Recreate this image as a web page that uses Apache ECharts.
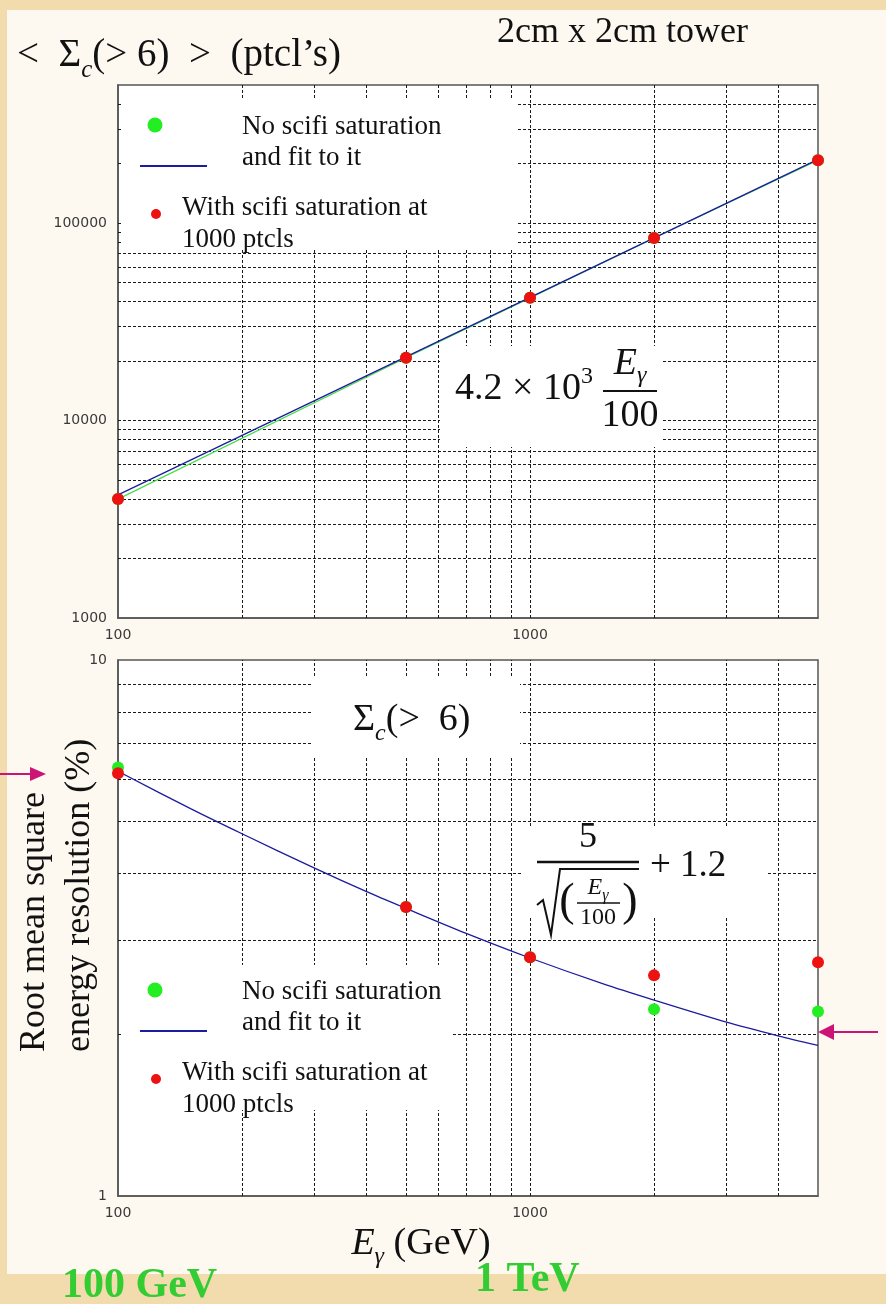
<!DOCTYPE html>
<html><head><meta charset="utf-8">
<script src="https://cdn.jsdelivr.net/npm/echarts@6/dist/echarts.min.js"></script>
<style>html,body{margin:0;padding:0;background:#f2dcad;}#c{width:886px;height:1304px;}</style>
</head><body><div id="c"></div>
<script>
// ---------- data ----------
const energies = [100, 500, 1000, 2000, 5000];               // E_gamma (GeV)
const topNoSat   = [4000, 20800, 41800, 84000, 208000];       // <Sigma_c(>6)>, no scifi saturation
const topWithSat = [4000, 20800, 41800, 84000, 208000];       // with saturation at 1000 ptcls
const topFitE    = [100, 5000];
const topFitVal  = [4200, 210000];                            // 4.2e3 * E/100
const botNoSat   = [6.3, 3.46, 2.79, 2.23, 2.21];             // rms resolution (%), no saturation
const botWithSat = [6.15, 3.46, 2.79, 2.58, 2.73];            // with saturation
const botFitE    = [100, 150, 200, 300, 400, 500, 700, 1000, 1500, 2000, 3000, 4000, 5000];
const botFitVal  = [6.2, 5.28, 4.74, 4.09, 3.7, 3.44, 3.09, 2.78, 2.49, 2.32, 2.11, 1.99, 1.91];
// grid / tick values
const xGridVals    = [200, 300, 400, 500, 600, 700, 800, 900, 1000, 2000, 3000, 4000];
const topYGridVals = [2000, 3000, 4000, 5000, 6000, 7000, 8000, 9000, 10000,
                      20000, 30000, 40000, 50000, 60000, 70000, 80000, 90000, 100000,
                      200000, 300000, 400000];
const botYGridVals = [2, 3, 4, 5, 6, 7, 8, 9];
const xLabelVals   = [100, 1000];
const topYLabelVals = [1000, 10000, 100000];
const botYLabelVals = [1, 10];

const zip = (a, b) => a.map((v, i) => [v, b[i]]);
const SERIF = '"Liberation Serif", "Times New Roman", serif';
const TICKFONT = '"DejaVu Sans", sans-serif';

const gridLineStyle = { color: '#1a1a1a', type: [3, 2], width: 1 };
function gridSeries(xi, yVals) {
  return {
    type: 'line', xAxisIndex: xi, yAxisIndex: xi, data: [], z: 1, silent: true,
    markLine: {
      z: 1, silent: true, symbol: ['none', 'none'], label: { show: false },
      lineStyle: gridLineStyle, animation: false,
      emphasis: { disabled: true },
      data: xGridVals.map(v => ({ xAxis: v })).concat(yVals.map(v => ({ yAxis: v })))
    }
  };
}
function xAxisDef(gi) {
  return {
    type: 'log', gridIndex: gi, min: 100, max: 5000, logBase: 10,
    axisLine: { show: true, lineStyle: { color: '#555', width: 1.5 } },
    axisTick: { show: false }, splitLine: { show: false },
    axisLabel: {
      margin: 10, color: '#3a3a3a', fontFamily: TICKFONT, fontSize: 14,
      showMaxLabel: false,
      formatter: v => xLabelVals.some(t => Math.abs(t - v) / t < 1e-6) ? String(Math.round(v)) : ''
    }
  };
}
function yAxisDef(gi, mn, mx, labels, showMax) {
  return {
    type: 'log', gridIndex: gi, min: mn, max: mx, logBase: 10,
    axisLine: { show: true, lineStyle: { color: '#555', width: 1.5 } },
    axisTick: { show: false }, splitLine: { show: false },
    axisLabel: {
      margin: 11, color: '#3a3a3a', fontFamily: TICKFONT, fontSize: 14,
      showMaxLabel: showMax,
      formatter: v => labels.some(t => Math.abs(t - v) / t < 1e-6) ? String(Math.round(v)) : ''
    }
  };
}

const box = (x, y, w, h) => ({ type: 'rect', z: 2, silent: true, shape: { x, y, width: w, height: h }, style: { fill: '#ffffff' } });
function fstyle(spec) { // spec: {size, style, weight}
  return { fontFamily: SERIF, fontSize: spec.size, fontStyle: spec.style || 'normal', fontWeight: spec.weight || 'normal' };
}
const txt = (x, y, text, spec, extra) => ({
  type: 'text', z: 10, silent: true, x, y,
  style: Object.assign({ text, fill: '#111', textAlign: 'left', textVerticalAlign: 'middle' }, fstyle(spec), extra || {})
});
const ln = (x1, y1, x2, y2, color, w) => ({ type: 'line', z: 10, silent: true, shape: { x1, y1, x2, y2 }, style: { stroke: color, lineWidth: w } });
const dot = (cx, cy, r, color) => ({ type: 'circle', z: 10, silent: true, shape: { cx, cy, r }, style: { fill: color } });
const sub = (size, va) => Object.assign(fstyle({ size, style: 'italic' }), { verticalAlign: va, lineHeight: size });

const GREEN = '#22ee22', RED = '#ee1111', BLUE = '#1c1c9e', MAG = '#cc1477';

function legend(y0) {
  return [
    dot(155, y0, 7.5, GREEN),
    ln(140, y0 + 41, 207, y0 + 41, BLUE, 2.2),
    txt(242, y0 + 2, 'No scifi saturation', { size: 27 }),
    txt(242, y0 + 33, 'and fit to it', { size: 27 }),
    dot(156, y0 + 89, 5, RED),
    txt(182, y0 + 83, 'With scifi saturation at', { size: 27 }),
    txt(182, y0 + 115, '1000 ptcls', { size: 27 })
  ];
}

const graphics = [
  // picture area (lighter paper)
  { type: 'rect', z: -10, silent: true, shape: { x: 7, y: 10, width: 879, height: 1264 }, style: { fill: '#fdf9f0' } },
  // white boxes masking the grid
  box(123, 98, 395, 152),      // top legend
  box(440, 346, 223, 101),     // top formula
  box(312, 678, 208, 79),      // Sigma_c(>6)
  box(523, 826, 245, 92),      // bottom formula
  box(123, 965, 329, 145),     // bottom legend
  // titles
  txt(17, 56, '<  Σ{s|c}(> 6)  >  (ptcl’s)', { size: 39 }, { rich: { s: sub(25, 'bottom') }, lineHeight: 54 }),
  txt(497, 33, '2cm x 2cm tower', { size: 36 }),
  // top formula 4.2 x 10^3 E/100
  txt(455, 389, '4.2 × 10{p|3}', { size: 38 },
      { rich: { p: Object.assign(fstyle({ size: 24 }), { verticalAlign: 'top', lineHeight: 24 }) }, lineHeight: 48 }),
  txt(630, 364, 'E{s|γ}', { size: 38, style: 'italic' }, { textAlign: 'center', rich: { s: sub(24, 'bottom') }, lineHeight: 48 }),
  ln(603, 391, 657, 391, '#111', 2.2),
  txt(630, 416, '100', { size: 38 }, { textAlign: 'center' }),
  // Sigma_c(>6)
  txt(353, 720, 'Σ{s|c}(>  6)', { size: 38 }, { rich: { s: sub(24, 'bottom') }, lineHeight: 52 }),
  // bottom formula 5/sqrt(E/100) + 1.2
  txt(588, 838, '5', { size: 36 }, { textAlign: 'center' }),
  ln(537, 862, 639, 862, '#111', 2.4),
  { type: 'polyline', z: 10, silent: true, shape: { points: [[537, 905], [543, 900], [551, 935], [560, 869], [639, 869]] }, style: { stroke: '#111', lineWidth: 2, fill: null } },
  txt(567, 903, '(', { size: 46 }, { textAlign: 'center' }),
  txt(630, 903, ')', { size: 46 }, { textAlign: 'center' }),
  txt(598, 888, 'E{s|γ}', { size: 24, style: 'italic' }, { textAlign: 'center', rich: { s: sub(16, 'bottom') }, lineHeight: 32 }),
  ln(577, 903, 620, 903, '#111', 1.5),
  txt(598, 918, '100', { size: 24 }, { textAlign: 'center' }),
  txt(650, 866, '+ 1.2', { size: 37 }),
  // bottom y axis name (rotated)
  Object.assign(txt(35, 1052, 'Root mean square', { size: 36 }), { rotation: Math.PI / 2 }),
  Object.assign(txt(80, 1052, 'energy resolution (%)', { size: 36 }), { rotation: Math.PI / 2 }),
  // x axis name
  txt(421, 1244, 'E{s|γ}{n| (GeV)}', { size: 38, style: 'italic' },
      { textAlign: 'center', rich: { s: sub(24, 'bottom'), n: fstyle({ size: 38 }) }, lineHeight: 50 }),
  // green annotations
  txt(62, 1286, '100 GeV', { size: 42, weight: 'bold' }, { fill: '#33cc33' }),
  txt(475, 1280, '1 TeV', { size: 42, weight: 'bold' }, { fill: '#33cc33' }),
  // magenta arrows
  ln(0, 774, 33, 774, MAG, 2),
  { type: 'polygon', z: 10, silent: true, shape: { points: [[30, 767], [46, 774], [30, 781]] }, style: { fill: MAG } },
  ln(878, 1032, 830, 1032, MAG, 2),
  { type: 'polygon', z: 10, silent: true, shape: { points: [[834, 1024], [818, 1032], [834, 1040]] }, style: { fill: MAG } }
].concat(legend(125), legend(990));

const chart = echarts.init(document.getElementById('c'), null, { renderer: 'canvas' });
chart.setOption({
  animation: false,
  backgroundColor: '#f2dcad',
  grid: [
    { left: 118, top: 85, width: 700, height: 533, show: true, backgroundColor: '#fff', borderColor: '#555', borderWidth: 1.5, containLabel: false },
    { left: 118, top: 660, width: 700, height: 536, show: true, backgroundColor: '#fff', borderColor: '#555', borderWidth: 1.5, containLabel: false }
  ],
  xAxis: [xAxisDef(0), xAxisDef(1)],
  yAxis: [yAxisDef(0, 1000, 500000, topYLabelVals, false), yAxisDef(1, 1, 10, botYLabelVals, true)],
  series: [
    gridSeries(0, topYGridVals),
    gridSeries(1, botYGridVals),
    { name: 'No scifi saturation', type: 'line', xAxisIndex: 0, yAxisIndex: 0, z: 4,
      data: zip(energies, topNoSat), symbol: 'circle', symbolSize: 12,
      itemStyle: { color: GREEN, opacity: 1 }, lineStyle: { color: '#44dd44', width: 1.2 } },
    { name: 'fit', type: 'line', xAxisIndex: 0, yAxisIndex: 0, z: 5,
      data: zip(topFitE, topFitVal), symbol: 'none', lineStyle: { color: BLUE, width: 1.3 } },
    { name: 'With scifi saturation at 1000 ptcls', type: 'scatter', xAxisIndex: 0, yAxisIndex: 0, z: 6,
      data: zip(energies, topWithSat), symbolSize: 12, itemStyle: { color: RED, opacity: 1 } },
    { name: 'No scifi saturation', type: 'scatter', xAxisIndex: 1, yAxisIndex: 1, z: 4,
      data: zip(energies, botNoSat), symbolSize: 12, itemStyle: { color: GREEN, opacity: 1 } },
    { name: 'fit', type: 'line', xAxisIndex: 1, yAxisIndex: 1, z: 5, smooth: 0.3,
      data: zip(botFitE, botFitVal), symbol: 'none', lineStyle: { color: BLUE, width: 1.3 } },
    { name: 'With scifi saturation at 1000 ptcls', type: 'scatter', xAxisIndex: 1, yAxisIndex: 1, z: 6,
      data: zip(energies, botWithSat), symbolSize: 12, itemStyle: { color: RED, opacity: 1 } }
  ],
  graphic: { elements: graphics }
});
</script></body></html>
